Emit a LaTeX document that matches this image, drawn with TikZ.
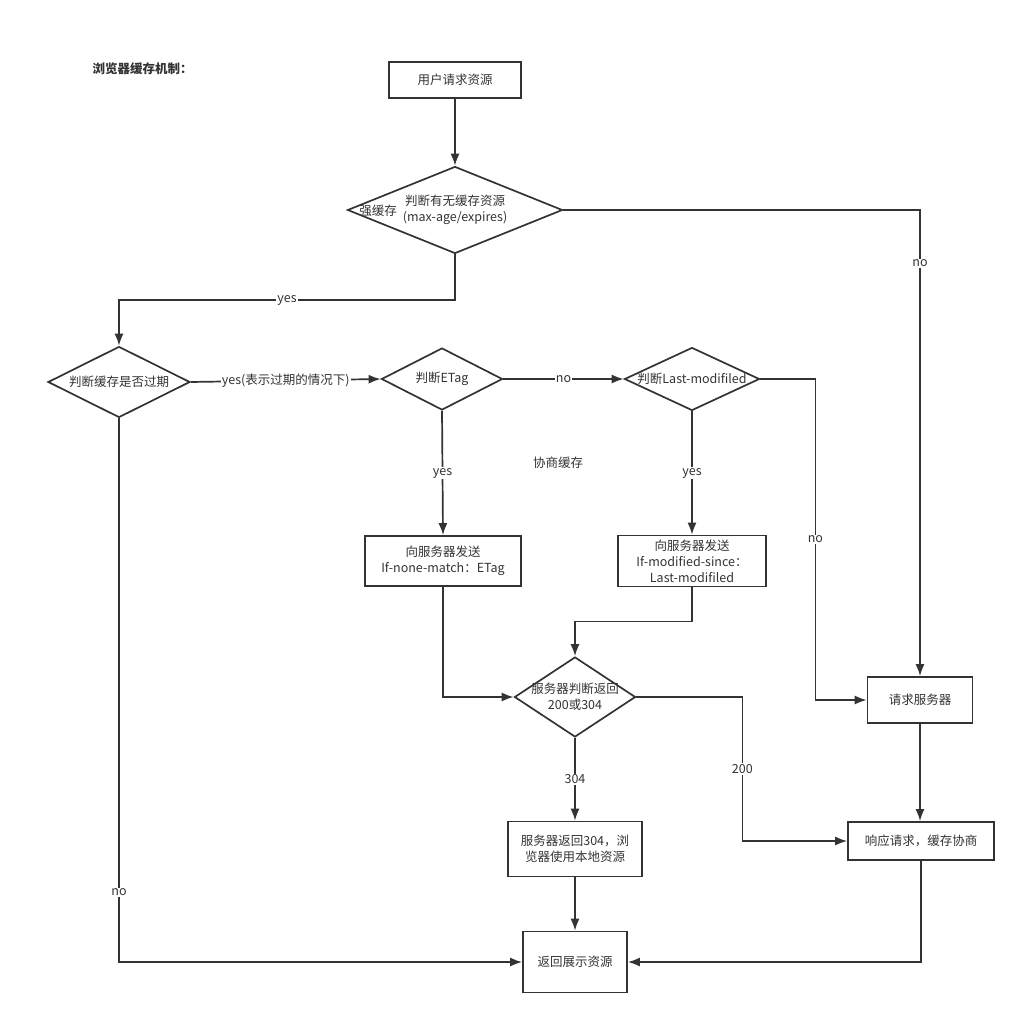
\documentclass[tikz,border=0pt]{standalone}
\usepackage{fontspec}
\setmainfont{Noto Sans CJK SC}
\usepackage{tikz}
\usetikzlibrary{calc,shapes.geometric,arrows.meta}
\definecolor{ink}{HTML}{333333}

\begin{document}
\begin{tikzpicture}[x=1pt,y=-1pt,
        every node/.style={text=ink, font=\fontsize{12.5}{16}\selectfont},
        box/.style={draw=ink, line width=1.7pt, rectangle, inner sep=0pt},
        choice/.style={draw=ink, line width=1.7pt, diamond, inner sep=0pt},
        arr/.style={draw=ink, line width=1.7pt, -{Latex[length=12pt,width=9pt]}},
        lbl/.style={fill=white, inner sep=1pt}]
        \useasboundingbox (0,0) rectangle (1026,1023);
        % title
        \node[anchor=west, font=\fontsize{12.5}{16}\selectfont\bfseries] (title) at (89,69) {浏览器缓存机制：};
        % boxes and diamonds
        \node[box, minimum width=132pt, minimum height=36pt] (start) at (455,80) {用户请求资源};
        \node[choice, minimum width=215pt, minimum height=87pt,
            label={[align=center]center:判断有无缓存资源\\(max-age/expires)}] (strong) at (455,210) {};
        \node (strongtxt) at (378,211) {强缓存};
        \node[choice, minimum width=142pt, minimum height=71pt,
            label=center:判断缓存是否过期] (expired) at (119,382) {};
        \node[choice, minimum width=121pt, minimum height=62pt,
            label=center:判断ETag] (etag) at (442,379) {};
        \node[choice, minimum width=135pt, minimum height=63pt,
            label=center:判断Last-modifiled] (lastmod) at (692,379) {};
        \node (nego) at (558,463) {协商缓存};
        \node[box, minimum width=156pt, minimum height=50pt, align=center] (sendetag) at (443,561)
            {向服务器发送\\If-none-match：ETag};
        \node[box, minimum width=148pt, minimum height=51pt, align=center] (sendlm) at (692,561)
            {向服务器发送\\If-modified-since：\\Last-modifiled};
        \node[choice, minimum width=121pt, minimum height=80pt,
            label={[align=center]center:服务器判断返回\\200或304}] (server) at (575,697) {};
        \node[box, minimum width=134pt, minimum height=55pt, align=center] (ret304) at (575,849)
            {服务器返回304，浏\\览器使用本地资源};
        \node[box, minimum width=104pt, minimum height=61pt] (show) at (575,962) {返回展示资源};
        \node[box, minimum width=105pt, minimum height=46pt] (reqserver) at (920,700) {请求服务器};
        \node[box, minimum width=146pt, minimum height=38pt] (respond) at (921,841) {响应请求，缓存协商};
        % connectors
        \draw[arr] (start) -- (strong);
        \draw[arr] (strong.east) -| node[lbl, pos=0.557] {no} (reqserver.north);
        \draw[arr] (strong.south) -- (455,300) -- node[lbl] {yes} (119,300) -- (expired.north);
        \draw[arr] (expired.east) -- node[lbl] {yes(表示过期的情况下)} (etag.west);
        \draw[arr] (etag.east) -- node[lbl] {no} (lastmod.west);
        \draw[arr] (etag.south) -- node[lbl] {yes} (sendetag.north);
        \draw[arr] (lastmod.south) -- node[lbl] {yes} (sendlm.north);
        \draw[arr] (lastmod.east) -- ++(55,0) -- node[lbl] {no} ++(0,321) -- (reqserver.west);
        \draw[arr] (sendetag.south) |- (server.west);
        \draw[arr] (sendlm.south) -- ++(0,34) -| (server.north);
        \draw[arr] (server.east) -- ++(106,0) |- node[lbl, pos=0.25] {200} (respond.west);
        \draw[arr] (server.south) -- node[lbl] {304} (ret304.north);
        \draw[arr] (ret304.south) -- (show.north);
        \draw[arr] (expired.south) |- node[lbl, pos=0.436] {no} (show.west);
        \draw[arr] (reqserver.south) -- (reqserver.south |- respond.north);
        \draw[arr] (respond.south) |- (show.east);
    \end{tikzpicture}
\end{document}
